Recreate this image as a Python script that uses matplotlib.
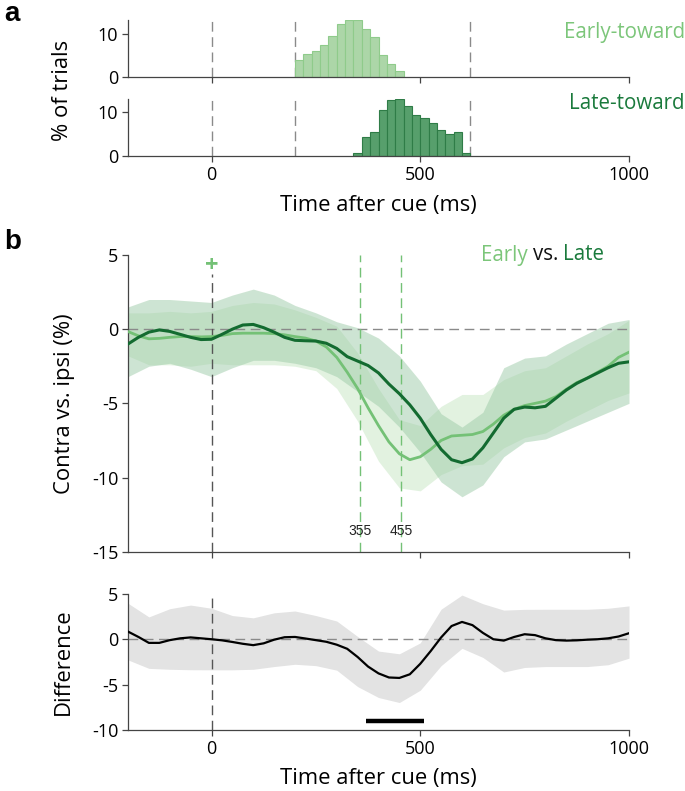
import numpy as np
import matplotlib
matplotlib.use("Agg")
import matplotlib.pyplot as plt

plt.rcParams['font.family'] = ['Open Sans', 'DejaVu Sans']
plt.rcParams['axes.unicode_minus'] = False

# ---------------- data ----------------
# histograms (% of trials), 20 ms bins
early_bin_left = [200, 220, 240, 260, 280, 300, 320, 340, 360, 380, 400, 420, 440]
early_pct = [4.0, 5.4, 5.9, 7.5, 9.5, 12.2, 13.2, 13.2, 11.0, 9.2, 5.2, 2.9, 1.3]
late_bin_left = [340, 360, 380, 400, 420, 440, 460, 480, 500, 520, 540, 560, 580, 600]
late_pct = [0.75, 4.25, 5.4, 10.5, 12.6, 12.8, 11.4, 9.25, 8.7, 7.5, 5.9, 5.1, 5.4, 0.75]
bin_width = 20
hist_markers = [0, 200, 620]

# time courses, 25 ms steps
t25 = list(range(-200, 1001, 25))
early_mean = [-0.16, -0.45, -0.65, -0.62, -0.55, -0.5, -0.5, -0.52, -0.5, -0.42,
              -0.3, -0.27, -0.27, -0.27, -0.3, -0.38, -0.5, -0.6, -0.8, -1.2,
              -1.9, -2.9, -4.0, -5.3, -6.5, -7.6, -8.4, -8.8, -8.6, -8.1,
              -7.5, -7.2, -7.15, -7.1, -6.9, -6.4, -5.8, -5.4, -5.15, -5.0,
              -4.85, -4.55, -4.05, -3.6, -3.3, -2.9, -2.5, -1.9, -1.55]
late_mean = [-1.0, -0.55, -0.2, -0.05, -0.15, -0.35, -0.55, -0.7, -0.68, -0.35,
             0.0, 0.28, 0.32, 0.1, -0.2, -0.55, -0.75, -0.78, -0.8, -0.95,
             -1.3, -1.85, -2.15, -2.45, -2.95, -3.7, -4.35, -5.1, -6.0, -7.1,
             -8.1, -8.8, -9.0, -8.75, -8.0, -7.0, -6.0, -5.4, -5.25, -5.3,
             -5.2, -4.65, -4.1, -3.65, -3.3, -2.95, -2.6, -2.3, -2.2]
diff_mean = [0.84, 0.25, -0.4, -0.4, -0.1, 0.1, 0.2, 0.1, 0.0, -0.12,
             -0.3, -0.5, -0.65, -0.45, -0.05, 0.22, 0.25, 0.08, -0.1, -0.28,
             -0.6, -1.05, -1.95, -3.0, -3.75, -4.2, -4.25, -3.85, -2.7, -1.3,
             0.2, 1.45, 1.9, 1.55, 0.7, 0.0, -0.15, 0.25, 0.55, 0.45,
             0.1, -0.1, -0.15, -0.12, -0.05, 0.0, 0.1, 0.3, 0.66]

# confidence bands, 50 ms steps
t50 = list(range(-200, 1001, 50))
early_hi = [1.1, 1.1, 1.2, 1.1, 1.2, 1.6, 1.8, 1.7, 1.3, 0.8, 0.2, -1.6, -4.0,
            -6.1, -6.5, -5.2, -4.4, -4.4, -3.4, -2.8, -2.6, -1.8, -1.0, -0.3, 0.6]
early_lo = [-1.8, -2.4, -2.4, -2.5, -2.3, -2.4, -2.4, -2.4, -2.5, -2.8, -4.0, -6.2, -8.9,
            -10.7, -10.9, -9.8, -9.2, -9.1, -8.0, -7.3, -7.0, -6.2, -5.5, -4.8, -4.3]
late_hi = [1.5, 2.0, 2.0, 1.9, 1.8, 2.3, 2.7, 2.3, 1.6, 1.1, 0.5, 0.1, -0.6,
           -1.8, -3.5, -5.7, -6.6, -5.6, -2.6, -1.95, -1.8, -1.0, -0.3, 0.4, 0.65]
late_lo = [-3.2, -2.5, -2.3, -2.7, -3.2, -2.6, -2.1, -2.1, -2.3, -2.6, -3.2, -4.2, -5.2,
           -6.6, -8.3, -10.3, -11.3, -10.5, -8.6, -7.6, -7.4, -6.8, -6.2, -5.6, -5.0]
diff_hi = [3.95, 2.45, 3.35, 3.75, 3.4, 2.6, 2.35, 2.9, 3.1, 2.6, 2.0, 0.3, -1.3,
           -1.6, -0.4, 3.3, 4.85, 3.9, 3.2, 3.28, 3.29, 3.29, 3.29, 3.4, 3.66]
diff_lo = [-2.27, -3.2, -3.3, -3.35, -3.36, -3.36, -3.3, -3.0, -2.75, -2.9, -3.4, -5.2, -6.4,
           -6.95, -5.6, -2.9, -1.0, -2.0, -3.6, -3.1, -3.0, -3.0, -3.0, -2.8, -2.08]

onset_times = [355, 455]
sig_window = [370, 510]
sig_level = -9.0

# ---------------- style ----------------
C_EARLY = '#74c176'
C_LATE = '#136b30'
C_EARLY_TXT = '#7cc67a'
C_LATE_TXT = '#1a7a3c'
C_GRID = '#8a8a8a'
SPINE = '#444444'
DASH = (0, (7, 4))
FS_TICK = 13
FS_LAB = 15.8
FS_NAME = 14.8

fig = plt.figure(figsize=(6.85, 7.91), dpi=100)
L, W = 128 / 685, (629 - 128) / 685


def rect(top_px, bot_px):
    return [L, 1 - bot_px / 791, W, (bot_px - top_px) / 791]


def style(ax):
    for s in ['top', 'right']:
        ax.spines[s].set_visible(False)
    for s in ['left', 'bottom']:
        ax.spines[s].set_color(SPINE)
        ax.spines[s].set_linewidth(0.9)
    ax.tick_params(direction='out', length=4, width=0.9, color=SPINE,
                   labelsize=FS_TICK, pad=3)
    ax.set_xlim(-200, 1000)
    ax.set_xticks([0, 500, 1000])


# ---- panel a ----
ax1 = fig.add_axes(rect(19.5, 77))
ax2 = fig.add_axes(rect(99, 156.3))
for ax, lefts, pct, fc, ec, ytop in [
        (ax1, early_bin_left, early_pct, '#acd6a8', '#8fcb8b', 13.3),
        (ax2, late_bin_left, late_pct, '#579f6c', '#2f7c47', 12.9)]:
    style(ax)
    ax.bar(lefts, pct, width=bin_width, align='edge', color=fc,
           edgecolor=ec, linewidth=0.8, zorder=2)
    for m in hist_markers:
        ax.axvline(m, color=C_GRID, lw=1, ls=DASH, zorder=1)
    ax.set_ylim(0, ytop)
    ax.set_yticks([0, 10])
ax1.set_xticklabels([])
ax2.set_xlabel('Time after cue (ms)', fontsize=FS_LAB)
ax2.xaxis.set_label_coords(0.5, (156.3 - 195) / 57.3)
ax1.text(1.113, 0.78, 'Early-toward', transform=ax1.transAxes, ha='right',
         va='center', color=C_EARLY_TXT, fontsize=FS_NAME)
ax2.text(1.11, 0.93, 'Late-toward', transform=ax2.transAxes, ha='right',
         va='center', color=C_LATE_TXT, fontsize=FS_NAME)
fig.text(63 / 685, 1 - 90 / 791, '% of trials', rotation=90, ha='center',
         va='center', fontsize=FS_LAB)
fig.text(4 / 685, 1 - 14 / 791, 'a', fontsize=20, fontweight='bold',
         family='Liberation Sans', ha='left', va='center')

# ---- panel b ----
axb = fig.add_axes(rect(255, 551.7))
style(axb)
axb.set_ylim(-15, 5)
axb.set_yticks([5, 0, -5, -10, -15])
axb.set_xticklabels([])
axb.fill_between(t50, early_lo, early_hi, color='#c6e6c2', alpha=0.5, lw=0, zorder=1)
axb.fill_between(t50, late_lo, late_hi, color='#9dcba8', alpha=0.5, lw=0, zorder=1)
axb.axhline(0, color=C_GRID, lw=1, ls=DASH, zorder=2)
axb.vlines(0, -15, 3.7, color='#555555', lw=1, ls=DASH, zorder=2)
axb.vlines(onset_times, -15, 5, color=C_EARLY, lw=1, ls=DASH, zorder=2)
axb.plot(t25, early_mean, color=C_EARLY, lw=2, zorder=3)
axb.plot(t25, late_mean, color=C_LATE, lw=2.2, zorder=4)
for ot in onset_times:
    axb.text(ot, -13.6, str(ot), ha='center', va='center', fontsize=10,
             family='Liberation Sans', color='#222222')
axb.text(0, 4.25, '+', ha='center', va='center', color=C_EARLY, fontsize=17,
         fontweight='bold')

# "Early vs. Late" placed word by word
fig.canvas.draw()
renderer = fig.canvas.get_renderer()
x0_px, y_px = 481, 791 - 255
space_px = 5
cur = x0_px
for txt, col in [('Early', C_EARLY_TXT), ('vs.', '#111111'), ('Late', C_LATE_TXT)]:
    t = fig.text(cur / 685, y_px / 791, txt, color=col, fontsize=FS_NAME,
                 ha='left', va='center')
    bb = t.get_window_extent(renderer=renderer)
    cur = bb.x1 + space_px
axb.set_ylabel('Contra vs. ipsi (%)', fontsize=FS_LAB)
axb.yaxis.set_label_coords((75 - 128) / 501, 0.5)
fig.text(4 / 685, 1 - 242 / 791, 'b', fontsize=20, fontweight='bold',
         family='Liberation Sans', ha='left', va='center')

# ---- difference ----
axc = fig.add_axes(rect(593.7, 730.3))
style(axc)
axc.set_ylim(-10, 5)
axc.set_yticks([5, 0, -5, -10])
axc.fill_between(t50, diff_lo, diff_hi, color='#e3e3e3', lw=0, zorder=1)
axc.axhline(0, color=C_GRID, lw=1, ls=DASH, zorder=2)
axc.vlines(0, -10, 4.5, color='#555555', lw=1, ls=DASH, zorder=2)
axc.plot(t25, diff_mean, color='black', lw=1.6, zorder=3)
axc.plot(sig_window, [sig_level, sig_level], color='black', lw=3.2,
         solid_capstyle='butt')
axc.set_ylabel('Difference', fontsize=FS_LAB)
axc.yaxis.set_label_coords((74 - 128) / 501, 0.5)
axc.set_xlabel('Time after cue (ms)', fontsize=FS_LAB)
axc.xaxis.set_label_coords(0.5, (730.3 - 768) / 136.6)

fig.savefig('out.png', dpi=100)
